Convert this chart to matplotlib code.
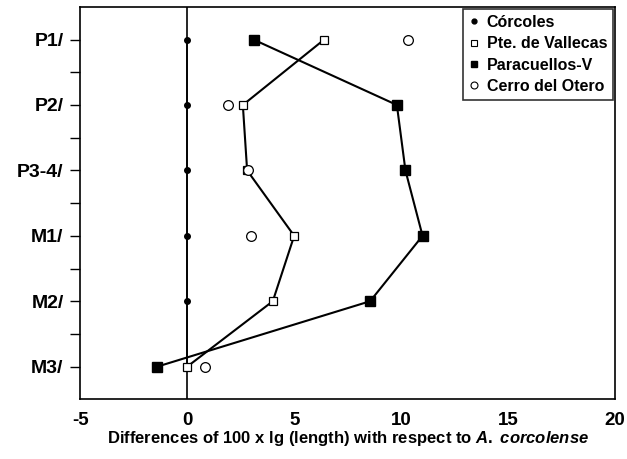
import matplotlib.pyplot as plt
from matplotlib.lines import Line2D
from matplotlib.ticker import FixedLocator
import numpy as np

# Zahnpositionen (von oben nach unten)
zaehne = ['P1/', 'P2/', 'P3-4/', 'M1/', 'M2/', 'M3/']

# Differenzen von 100 x lg(Laenge) bezogen auf A. corcolense
corcoles = [0, 0, 0, 0, 0, 0]
vallecas = [6.4, 2.6, 2.8, 5.0, 4.0, 0.0]
paracuellos = [3.1, 9.8, 10.2, 11.0, 8.55, -1.4]
otero = [10.3, 1.9, 2.85, 3.0, np.nan, 0.85]

plt.rcParams['font.family'] = ['Liberation Sans', 'DejaVu Sans']
plt.rcParams['font.weight'] = 'bold'
plt.rcParams['axes.unicode_minus'] = False
plt.rcParams['mathtext.fontset'] = 'custom'
plt.rcParams['mathtext.it'] = 'Liberation Sans:italic:bold'
plt.rcParams['mathtext.rm'] = 'Liberation Sans:bold'

fig = plt.figure(figsize=(6.27, 4.59), dpi=100)
ax = fig.add_axes([0.128, 0.13, 0.853, 0.855])

pos = np.arange(len(zaehne))

ax.axvline(0, color='black', lw=1.2, zorder=1)
ax.plot(corcoles, pos, color='black', lw=1.2, marker='o', ms=4, ls='-', zorder=2)
ax.plot(vallecas, pos, color='black', lw=1.5, marker='s', ms=6,
        mfc='white', mec='black', mew=0.9, zorder=3)
ax.plot(paracuellos, pos, color='black', lw=1.5, marker='s', ms=6.5,
        mfc='black', mec='black', zorder=3)
ax.plot(otero, pos, ls='none', marker='o', ms=7, mfc='white', mec='black',
        mew=0.9, zorder=4)

ax.set_xlim(-5, 20)
ax.set_ylim(5.5, -0.5)
ax.set_yticks(pos)
ax.set_yticklabels(zaehne)
ax.yaxis.set_minor_locator(FixedLocator(pos[:-1] + 0.5))
ax.tick_params(axis='y', which='both', direction='out', length=7, width=1,
               labelsize=14, pad=5)
ax.tick_params(axis='x', length=0, labelsize=13.5, pad=9)
ax.set_xticks([-5, 0, 5, 10, 15, 20])
for lab in ax.get_xticklabels() + ax.get_yticklabels():
    lab.set_fontweight('bold')
for s in ax.spines.values():
    s.set_linewidth(1.2)

ax.set_xlabel(r'Differences of 100 x lg (length) with respect to $\it{A.}$ $\it{corcolense}$',
              fontsize=12, fontweight='bold', labelpad=0)

handles = [
    Line2D([], [], ls='none', marker='o', ms=3.5, color='black'),
    Line2D([], [], ls='none', marker='s', ms=4.5, mfc='white', mec='black', mew=0.8),
    Line2D([], [], ls='none', marker='s', ms=5, color='black'),
    Line2D([], [], ls='none', marker='o', ms=5, mfc='white', mec='black', mew=0.8),
]
labels = ['Córcoles', 'Pte. de Vallecas', 'Paracuellos-V', 'Cerro del Otero']
leg = ax.legend(handles, labels, loc='upper right', frameon=True,
                fancybox=False, edgecolor='black', handlelength=0.6,
                handletextpad=0.5, borderpad=0.35, labelspacing=0.4,
                borderaxespad=0.15, prop={'weight': 'bold', 'size': 11.5})
leg.get_frame().set_linewidth(1.2)

plt.savefig('out.png', dpi=100)
